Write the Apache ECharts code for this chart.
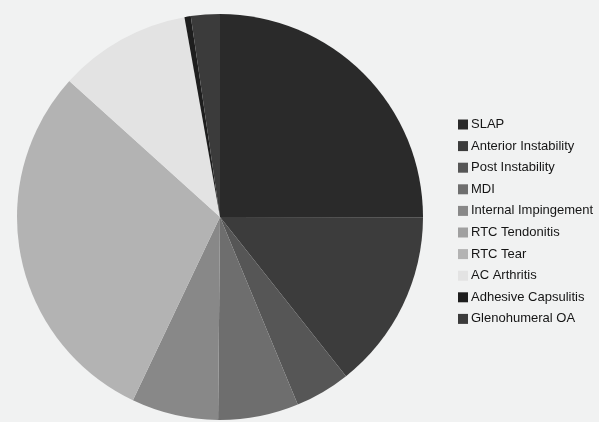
<!DOCTYPE html>
<html>
<head>
<meta charset="utf-8">
<script src="https://cdn.jsdelivr.net/npm/echarts@6/dist/echarts.min.js"></script>
<style>
  html, body { margin: 0; padding: 0; background: #f1f2f2; }
  #chart { width: 599px; height: 422px; }
</style>
</head>
<body>
<div id="chart"></div>
<script>
// Shoulder diagnoses, share of cases (%)
const categories = [
  'SLAP', 'Anterior Instability', 'Post Instability', 'MDI',
  'Internal Impingement', 'RTC Tendonitis', 'RTC Tear', 'AC Arthritis',
  'Adhesive Capsulitis', 'Glenohumeral OA'
];
const shares = [25, 14.3, 4.4, 6.4, 6.9, 0, 29.6, 10.5, 0.5, 2.3];
const greys = [
  '#2a2a2a', '#3c3c3c', '#565656', '#6e6e6e',
  '#888888', '#a0a0a0', '#b3b3b3', '#e3e3e3',
  '#1e1e1e', '#3b3b3b'
];

const chart = echarts.init(document.getElementById('chart'), null, { renderer: 'canvas' });
chart.setOption({
  backgroundColor: '#f1f2f2',
  animation: false,
  color: greys,
  legend: {
    orient: 'vertical',
    left: 453,
    top: 113,
    icon: 'rect',
    itemWidth: 10,
    itemHeight: 10,
    itemGap: 8.6,
    selectedMode: false,
    data: categories,
    textStyle: {
      fontFamily: 'Liberation Sans, Arial, sans-serif',
      fontSize: 13,
      color: '#151515',
      padding: [0, 0, 0, -2]
    }
  },
  series: [{
    type: 'pie',
    center: [220, 217],
    radius: [0, 203],
    startAngle: 90,
    clockwise: true,
    label: { show: false },
    labelLine: { show: false },
    emphasis: { disabled: true },
    itemStyle: { borderWidth: 0 },
    data: categories.map((name, i) => ({ name, value: shares[i] }))
  }]
});
</script>
</body>
</html>
